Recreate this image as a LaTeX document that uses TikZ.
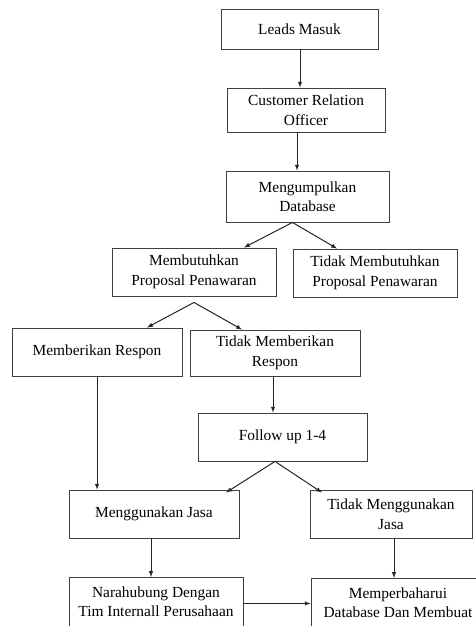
\documentclass[tikz,border=0pt]{standalone}
\usepackage{fontspec}
\setmainfont{Liberation Serif}
\usetikzlibrary{arrows}

\begin{document}
\begin{tikzpicture}[x = 1pt, y = -1pt]
\tikzstyle{BoxStyle}=[shape = rectangle, draw = black!75, line width = 0.9pt, align = center, inner sep = 2pt, font = \fontsize{15.4}{19.5}\selectfont]
\tikzstyle{ArrowStyle}=[-latex, draw = black!85, line width = 1pt]
\clip (0, 0) rectangle (476, 626);
\node[BoxStyle, minimum width = 157, minimum height = 40] (v0) at (299.5, 29) {Leads Masuk};
\node[BoxStyle, minimum width = 158, minimum height = 44] (v1) at (306, 110) {Customer Relation\\Officer};
\node[BoxStyle, minimum width = 163, minimum height = 51] (v2) at (307.5, 196.5) {Mengumpulkan\\Database};
\node[BoxStyle, minimum width = 164, minimum height = 48] (v3) at (194, 272) {Membutuhkan\\Proposal Penawaran};
\node[BoxStyle, minimum width = 164, minimum height = 48] (v4) at (375, 273) {Tidak Membutuhkan\\Proposal Penawaran};
\node[BoxStyle, minimum width = 170, minimum height = 48] (v5) at (97, 352) {Memberikan Respon};
\node[BoxStyle, minimum width = 170, minimum height = 46] (v6) at (275, 353) {Tidak Memberikan\\Respon};
\node[BoxStyle, minimum width = 169, minimum height = 48] (v7) at (282.5, 437) {Follow up 1-4};
\node[BoxStyle, minimum width = 170, minimum height = 48] (v8) at (154, 514) {Menggunakan Jasa};
\node[BoxStyle, minimum width = 162, minimum height = 48] (v9) at (391, 514) {Tidak Menggunakan\\Jasa};
\node[BoxStyle, minimum width = 174, minimum height = 68, anchor = north] (v10) at (156, 577) {Narahubung Dengan\\Tim Internall Perusahaan\\\vphantom{D}};
\node[BoxStyle, minimum width = 174, minimum height = 68, anchor = north] (v11) at (398, 578) {Memperbaharui\\Database Dan Membuat\\\vphantom{D}};
\draw[ArrowStyle] ([xshift = 0.5]v0.south) -- ([xshift = 0.5]v0.south |- v1.north);
\draw[ArrowStyle] ([xshift = -9]v1.south) -- ([xshift = -9]v1.south |- v2.north);
\draw[ArrowStyle] ([xshift = -15]v2.south) -- ([xshift = 50]v3.north);
\draw[ArrowStyle] ([xshift = -15]v2.south) -- ([xshift = -38]v4.north);
\draw[ArrowStyle] ([yshift = -6]v3.south) -- ([xshift = 50]v5.north);
\draw[ArrowStyle] ([yshift = -6]v3.south) -- ([xshift = -33]v6.north);
\draw[ArrowStyle] ([xshift = -2]v6.south) -- ([xshift = -2]v6.south |- v7.north);
\draw[ArrowStyle] (v5.south) -- (v5.south |- v8.north);
\draw[ArrowStyle] ([xshift = -7.5]v7.south) -- ([xshift = 72, yshift = -3]v8.north);
\draw[ArrowStyle] ([xshift = -7.5]v7.south) -- ([xshift = -69, yshift = -3]v9.north);
\draw[ArrowStyle] ([xshift = -3]v8.south) -- ([xshift = -3]v8.south |- v10.north);
\draw[ArrowStyle] ([xshift = 3]v9.south) -- ([xshift = 3]v9.south |- v11.north);
\draw[ArrowStyle] ([yshift = 8]v10.east) -- ([yshift = 8]v10.east -| v11.west);
\end{tikzpicture}
\end{document}
